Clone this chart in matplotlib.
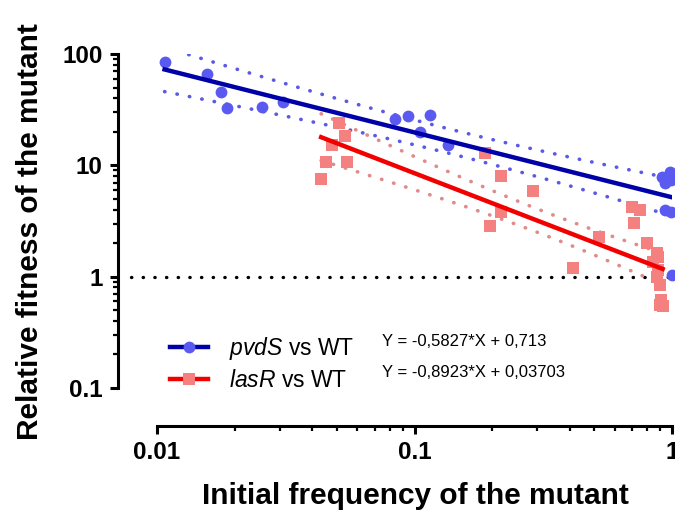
import matplotlib
matplotlib.use("Agg")
import matplotlib.pyplot as plt
import numpy as np
from matplotlib.lines import Line2D
from matplotlib.ticker import LogLocator, NullFormatter

plt.rcParams["font.family"] = ["Liberation Sans", "DejaVu Sans"]
plt.rcParams["mathtext.fontset"] = "custom"
plt.rcParams["mathtext.it"] = "Liberation Sans:italic"
plt.rcParams["mathtext.rm"] = "Liberation Sans"

# pvdS vs WT (blue circles)
pvds_freq = [0.0107, 0.0156, 0.0177, 0.0187, 0.0256, 0.0309, 0.084, 0.0944,
             0.1148, 0.105, 0.135, 0.914, 0.98, 0.94, 0.995, 0.94, 0.995, 1.0]
pvds_fit = [85, 66, 45.6, 32.8, 33.5, 37.1, 26.1, 27.8,
            28.4, 20.0, 15.2, 7.9, 8.7, 6.95, 7.4, 3.97, 3.81, 1.03]

# lasR vs WT (red squares)
lasr_freq = [0.0509, 0.0537, 0.0479, 0.0453, 0.0547, 0.0434, 0.188, 0.217,
             0.288, 0.217, 0.196, 0.413, 0.521, 0.70, 0.751, 0.712, 0.80,
             0.875, 0.84, 0.88, 0.88, 0.875, 0.895, 0.91, 0.895, 0.92]
lasr_fit = [24.0, 18.4, 15.2, 10.7, 10.7, 7.55, 12.9, 8.0,
            5.9, 3.8, 2.86, 1.2, 2.27, 4.23, 3.97, 3.04, 2.01,
            1.63, 1.36, 1.50, 1.15, 0.99, 0.84, 0.62, 0.56, 0.54]

# log-log regression coefficients (from the figure's equations)
pvds_slope, pvds_icpt = -0.5827, 0.713
lasr_slope, lasr_icpt = -0.8923, 0.03703
pvds_eq = "Y = -0,5827*X + 0,713"
lasr_eq = "Y = -0,8923*X + 0,03703"
t975 = {16: 2.120, 24: 2.064}

x_ticks = [0.01, 0.1, 1]
x_tick_labels = ["0.01", "0.1", "1"]
y_ticks = [0.1, 1, 10, 100]
y_tick_labels = ["0.1", "1", "10", "100"]

DOTS = (0, (0.1, 3.4))


def fit_band(freq, fit, slope, icpt):
    X = np.log10(freq)
    Y = np.log10(fit)
    n = len(X)
    resid = Y - (slope * X + icpt)
    s = np.sqrt(np.sum(resid ** 2) / (n - 2))
    xm = X.mean()
    sxx = np.sum((X - xm) ** 2)
    xs = np.linspace(X.min(), X.max(), 100)
    ys = slope * xs + icpt
    half = t975[n - 2] * s * np.sqrt(1.0 / n + (xs - xm) ** 2 / sxx)
    return 10 ** xs, 10 ** ys, 10 ** (ys - half), 10 ** (ys + half)


fig = plt.figure(figsize=(6.75, 5.23), dpi=100)
ax = fig.add_axes([157 / 675, 1 - 388 / 523, 515 / 675, 334 / 523])
ax.set_xscale("log")
ax.set_yscale("log")
ax.set_xlim(0.01, 1)
ax.set_ylim(0.1, 100)

# reference line at fitness = 1
ax.plot([-0.05, 1.0], [1, 1], transform=ax.get_yaxis_transform(), color="black",
        lw=2.4, ls=DOTS, dash_capstyle="round", clip_on=False, zorder=1)

series = [
    (pvds_freq, pvds_fit, pvds_slope, pvds_icpt, "#0000a8", "#5a5af0", "#5a5ae6", "o"),
    (lasr_freq, lasr_fit, lasr_slope, lasr_icpt, "#f20000", "#f58080", "#e08a8a", "s"),
]
for freq, fit, slope, icpt, lc, pc, bc, mk in series:
    xs, ys, lo, hi = fit_band(freq, fit, slope, icpt)
    for b in (lo, hi):
        ax.plot(xs, b, color=bc, lw=2.6, ls=DOTS, dash_capstyle="round", zorder=2)
    ax.plot(freq, fit, mk, color=pc, ms=8.5, mew=0, clip_on=False, zorder=3)
    ax.plot(xs, ys, color=lc, lw=3.2, zorder=4)

for side in ("top", "right"):
    ax.spines[side].set_visible(False)
ax.spines["left"].set_position(("outward", 28))
ax.spines["bottom"].set_position(("outward", 27))
for side in ("left", "bottom"):
    ax.spines[side].set_linewidth(2.2)

ax.xaxis.set_minor_locator(LogLocator(base=10, subs=np.arange(2, 10)))
ax.yaxis.set_minor_locator(LogLocator(base=10, subs=np.arange(2, 10)))
ax.xaxis.set_minor_formatter(NullFormatter())
ax.yaxis.set_minor_formatter(NullFormatter())
ax.set_xticks(x_ticks, x_tick_labels)
ax.set_yticks(y_ticks, y_tick_labels)
ax.tick_params(which="major", length=6, width=2.2, labelsize=17.5, pad=5)
ax.tick_params(which="minor", length=3.5, width=1.6)
for lbl in ax.get_xticklabels() + ax.get_yticklabels():
    lbl.set_fontweight("bold")

ax.set_xlabel("Initial frequency of the mutant", fontsize=21.5, fontweight="bold")
ax.set_ylabel("Relative fitness of the mutant", fontsize=21.5, fontweight="bold")
ax.xaxis.set_label_coords(0.501, -0.28)
ax.yaxis.set_label_coords(-0.219, 0.467)

handles = [
    Line2D([], [], color="#0000a8", lw=3.2, marker="o", ms=8.5, mfc="#5a5af0", mew=0),
    Line2D([], [], color="#f20000", lw=3.2, marker="s", ms=8.5, mfc="#f58080", mew=0),
]
labels = [r"$\mathit{pvdS}$ vs WT", r"$\mathit{lasR}$ vs WT"]
ax.legend(handles, labels, loc="upper left", bbox_to_anchor=(0.025, 0.16),
          frameon=False, fontsize=16.5, borderpad=0, borderaxespad=0,
          handlelength=1.65, handletextpad=0.95, labelspacing=0.34)
ax.text(0.437, 0.138, pvds_eq, transform=ax.transAxes, fontsize=12, va="center")
ax.text(0.437, 0.045, lasr_eq, transform=ax.transAxes, fontsize=12, va="center")

fig.savefig("out.png", dpi=100)
